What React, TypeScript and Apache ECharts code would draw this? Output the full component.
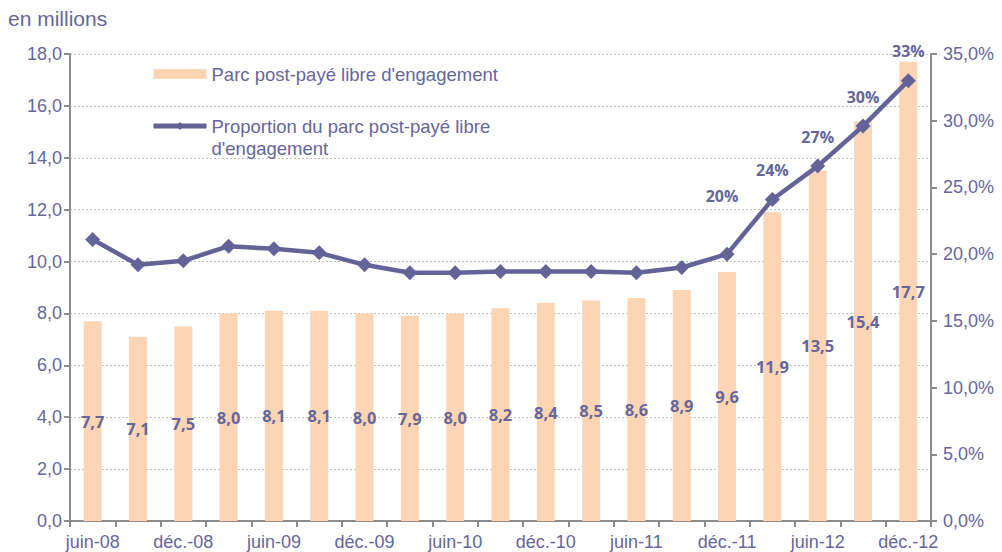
import React, { useEffect, useRef } from "react";
import * as echarts from "echarts";

const categories = [
  "juin-08", "sept.-08", "déc.-08", "mars-09", "juin-09", "sept.-09", "déc.-09",
  "mars-10", "juin-10", "sept.-10", "déc.-10", "mars-11", "juin-11", "sept.-11",
  "déc.-11", "mars-12", "juin-12", "sept.-12", "déc.-12",
];
const parcValues = [7.7, 7.1, 7.5, 8.0, 8.1, 8.1, 8.0, 7.9, 8.0, 8.2, 8.4, 8.5, 8.6, 8.9, 9.6, 11.9, 13.5, 15.4, 17.7];
const proportionValues = [21.1, 19.2, 19.5, 20.6, 20.4, 20.1, 19.2, 18.6, 18.6, 18.7, 18.7, 18.7, 18.6, 19.0, 20.0, 24.1, 26.6, 29.6, 33.0];
const proportionLabels = ["", "", "", "", "", "", "", "", "", "", "", "", "", "", "20%", "24%", "27%", "30%", "33%"];
const leftTicks = { min: 0, max: 18, interval: 2 };
const rightTicks = { min: 0, max: 35, interval: 5 };

const BAR_NAME = "Parc post-payé libre d'engagement";
const LINE_NAME = "Proportion du parc post-payé libre\nd'engagement";

const TXT = "#66669A";
const LINE = "#636398";
const BAR = "#FCD5B5";
const AXIS = "#8C8C8C";
const FONT = "'Liberation Sans', Arial, sans-serif";

export default function App() {
  const ref = useRef<HTMLDivElement>(null);
  useEffect(() => {
    const chart = echarts.init(ref.current!, null, { renderer: "svg" });
    chart.setOption({
      animation: false,
      textStyle: { fontFamily: FONT },
      graphic: [
        { type: "text", left: 8, top: 8, style: { text: "en millions", fill: TXT, font: "21px " + FONT } },
      ],
      legend: {
        left: 151,
        top: 63,
        padding: 0,
        orient: "vertical",
        itemWidth: 53,
        itemHeight: 10,
        itemGap: 8,
        textStyle: { color: TXT, fontSize: 18.5, lineHeight: 22, fontFamily: FONT },
        formatter: (name: string) => (name === LINE_NAME ? " \n" + name : name),
        data: [
          { name: BAR_NAME, icon: "rect" },
          { name: LINE_NAME, lineStyle: { width: 5, color: LINE } },
        ],
      },
      grid: { left: 70, right: 71, top: 54, bottom: 31, containLabel: false },
      xAxis: {
        type: "category",
        data: categories,
        boundaryGap: true,
        axisLine: { lineStyle: { color: AXIS, width: 2 } },
        axisTick: { show: true, interval: 0, alignWithLabel: false, length: 6, lineStyle: { color: AXIS, width: 2 } },
        axisLabel: { interval: 1, color: TXT, fontSize: 18, margin: 12 },
      },
      yAxis: [
        {
          type: "value",
          ...leftTicks,
          position: "left",
          axisLine: { show: true, lineStyle: { color: AXIS, width: 2 } },
          axisTick: { show: true, inside: false, length: 6, lineStyle: { color: AXIS, width: 2 } },
          axisLabel: { color: TXT, fontSize: 18, margin: 8, formatter: (v: number) => v.toFixed(1).replace(".", ",") },
          splitLine: { show: true, lineStyle: { color: "#BDBDBD", type: [2, 2], width: 1 } },
        },
        {
          type: "value",
          ...rightTicks,
          position: "right",
          axisLine: { show: true, lineStyle: { color: AXIS, width: 2 } },
          axisTick: { show: true, inside: false, length: 6, lineStyle: { color: AXIS, width: 2 } },
          axisLabel: { color: TXT, fontSize: 18, margin: 12, formatter: (v: number) => v.toFixed(1).replace(".", ",") + "%" },
          splitLine: { show: false },
        },
      ],
      series: [
        {
          name: BAR_NAME,
          type: "bar",
          yAxisIndex: 0,
          barWidth: 18,
          itemStyle: { color: BAR },
          data: parcValues,
          label: {
            show: true,
            position: "inside",
            color: TXT,
            fontWeight: "bold",
            fontSize: 16.5,
            fontFamily: "Open Sans, sans-serif",
            formatter: (p: any) => p.value.toFixed(1).replace(".", ","),
          },
          z: 1,
        },
        {
          name: LINE_NAME,
          type: "line",
          yAxisIndex: 1,
          symbol: "diamond",
          symbolSize: 15,
          lineStyle: { color: LINE, width: 4.5 },
          itemStyle: { color: LINE },
          data: proportionValues.map((v, i) => ({
            value: v,
            label: {
              show: proportionLabels[i] !== "",
              position: "top",
              distance: 14,
              offset: i === 14 ? [-5, -29] : [0, 0],
              formatter: proportionLabels[i],
              color: TXT,
              fontWeight: "bold",
              fontSize: 16,
              fontFamily: "Open Sans, sans-serif",
            },
          })),
          z: 3,
        },
      ],
    });
    return () => chart.dispose();
  }, []);
  return <div ref={ref} style={{ width: 1002, height: 552, position: "absolute", left: 0, top: 0 }} />;
}
